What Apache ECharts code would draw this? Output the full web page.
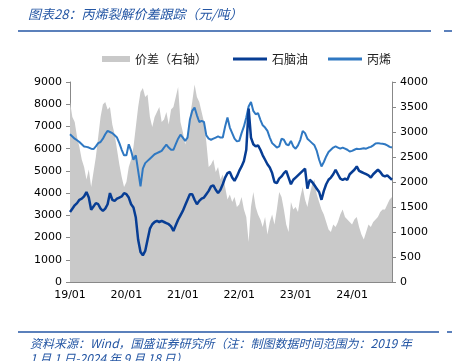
<!DOCTYPE html>
<html>
<head>
<meta charset="utf-8">
<script src="https://cdn.jsdelivr.net/npm/echarts@6/dist/echarts.min.js"></script>
<style>html,body{margin:0;padding:0;background:#fff;}#c{width:452px;height:361px;}</style>
</head>
<body>
<div id="c"></div>
<script>
// Half-monthly dates, 2019-01-01 .. 2024-09-16
var dates = [];
for (var y = 2019; y <= 2024; y++) {
  for (var m = 1; m <= 12; m++) {
    if (y === 2024 && m > 9) break;
    var mm = (m < 10 ? '0' : '') + m;
    dates.push(y + '-' + mm + '-01');
    dates.push(y + '-' + mm + '-16');
  }
}

// 丙烯 (left axis, 元/吨)
var propylene = [
  6650,6550,6450,6380,6300,6200,6100,6080,6050,6000,5980,6100,6250,6300,6450,6650,6800,6750,6700,6600,6500,6250,5950,5700,
  5700,6200,5900,5500,5700,5000,4300,5100,5350,5450,5550,5650,5750,5800,5850,5900,6050,6180,6050,5950,5950,6200,6450,6630,
  6500,6350,6500,7300,7700,7850,7500,7200,7250,7200,6600,6450,6400,6450,6500,6550,6500,6500,7000,7400,6950,6700,6450,6330,
  6350,6700,7000,7400,7900,8100,7700,7550,7600,7300,7050,6950,6800,6500,6250,6150,6050,6100,6450,6400,6200,6150,6350,6100,
  6000,6150,6400,6800,6700,6450,6350,6250,6150,5900,5500,5200,5400,5650,5850,5950,6050,6100,6050,6000,6050,6000,5950,5870,
  5900,5950,6000,5980,6000,6020,6000,6050,6080,6150,6230,6250,6230,6220,6200,6150,6080,6050
];

// 石脑油 (left axis, 元/吨)
var naphtha = [
  3150,3300,3450,3550,3700,3750,3850,4050,3800,3250,3400,3550,3500,3300,3200,3300,3500,4000,3700,3650,3750,3800,3850,4000,
  3950,3800,3500,3350,2900,1900,1350,1200,1400,1900,2400,2600,2700,2750,2700,2750,2700,2650,2600,2500,2300,2550,2800,3000,
  3200,3450,3700,3950,3950,3700,3500,3650,3750,3800,3950,4100,4300,4350,4150,4000,4150,4400,4700,4900,4950,4700,4550,4750,
  5000,5200,5450,5950,7800,6500,6200,6100,6150,5950,5700,5500,5300,5150,4900,4500,4450,4650,4750,4900,5000,4700,4400,4600,
  4700,4800,4900,5000,5100,4200,4600,4500,4350,4200,4050,3700,4100,4400,4600,4700,4850,5050,4850,4650,4600,4650,4600,4850,
  4950,5050,5200,5000,4950,4900,4850,4800,4700,4850,4950,5050,4950,4800,4750,4800,4700,4600
];

// 价差 (right axis, 元/吨)
var spread = [
  3600,3300,3200,2900,2700,2450,2300,2050,2250,1900,2200,2500,2900,3300,3550,3600,3450,3500,3150,2950,2650,2350,2100,1900,
  2000,2300,2450,2700,3100,3500,3800,3880,3700,3750,3300,3100,3300,3400,3500,3200,3250,3400,3150,3450,3500,3700,3900,3200,
  3000,2750,2950,3300,3600,3950,3700,3600,3400,3200,2800,2300,2350,2450,2200,2300,2050,2150,1900,1650,1750,1600,1700,1500,
  1550,1700,1450,1300,800,1500,1800,1500,1350,1250,1100,1300,950,1200,1350,1150,1450,1800,1700,1450,1150,1000,1600,1450,
  1500,1400,1700,1900,1650,1500,1750,1950,2050,1750,1600,1450,1350,1200,1050,1000,1150,1100,1200,1350,1450,1300,1250,1200,
  1150,1250,1300,1100,950,850,1000,1150,1100,1200,1250,1300,1400,1450,1450,1550,1650,1700
];

var leftTicks = [0, 9000, 1000];
var rightTicks = [0, 4000, 500];

var blue = '#2456a4';
var chart = echarts.init(document.getElementById('c'), null, {renderer: 'canvas'});
var numFont = 'DejaVu Sans';
var cjk = '"Noto Sans CJK SC"';
var plain = function (v) { return String(v); };

chart.setOption({
  animation: false,
  backgroundColor: '#fff',
  grid: {left: 70, right: 60, top: 82, bottom: 79, containLabel: false},
  legend: [
    {
      left: 97, top: 48,
      itemWidth: 28, itemHeight: 6,
      textStyle: {fontFamily: cjk, fontSize: 12, color: '#222'},
      data: [{name: '价差（右轴）', icon: 'rect'}]
    },
    {
      left: 228, top: 48,
      itemWidth: 34, itemHeight: 3, itemGap: 20,
      textStyle: {fontFamily: cjk, fontSize: 12, color: '#222'},
      data: [{name: '石脑油', icon: 'rect'}, {name: '丙烯', icon: 'rect'}]
    }
  ],
  xAxis: {
    type: 'category',
    data: dates,
    boundaryGap: false,
    axisLine: {lineStyle: {color: '#888', width: 1}},
    axisTick: {
      inside: true, length: 4,
      lineStyle: {color: '#888'},
      interval: function (i, v) { return v.slice(5) === '01-01'; }
    },
    axisLabel: {
      interval: function (i, v) { return v.slice(5) === '01-01'; },
      formatter: function (v) { return v.slice(2, 4) + '/' + v.slice(5, 7); },
      fontFamily: numFont, fontSize: 11, color: '#000', margin: 8
    },
    splitLine: {show: false}
  },
  yAxis: [
    {
      type: 'value', min: leftTicks[0], max: leftTicks[1], interval: leftTicks[2],
      axisLine: {show: true, lineStyle: {color: '#888'}},
      axisTick: {show: true, length: 4, lineStyle: {color: '#888'}},
      axisLabel: {fontFamily: numFont, fontSize: 11, color: '#000', margin: 8, formatter: plain},
      splitLine: {show: false}
    },
    {
      type: 'value', min: rightTicks[0], max: rightTicks[1], interval: rightTicks[2],
      position: 'right',
      axisLine: {show: true, lineStyle: {color: '#888'}},
      axisTick: {show: true, length: 4, lineStyle: {color: '#888'}},
      axisLabel: {fontFamily: numFont, fontSize: 11, color: '#000', margin: 8, formatter: plain},
      splitLine: {show: false}
    }
  ],
  series: [
    {
      name: '价差（右轴）', type: 'line', yAxisIndex: 1, data: spread,
      symbol: 'none', lineStyle: {width: 0, color: '#c9c9c9'},
      itemStyle: {color: '#c9c9c9'},
      areaStyle: {color: '#c9c9c9', opacity: 1}, z: 1
    },
    {
      name: '丙烯', type: 'line', yAxisIndex: 0, data: propylene,
      symbol: 'none', lineStyle: {width: 2, color: '#2f78c2'},
      itemStyle: {color: '#2f78c2'}, z: 2
    },
    {
      name: '石脑油', type: 'line', yAxisIndex: 0, data: naphtha,
      symbol: 'none', lineStyle: {width: 2.5, color: '#073d94'},
      itemStyle: {color: '#073d94'}, z: 3
    }
  ],
  graphic: [
    {type: 'text', left: 28, top: 8, style: {text: '图表28：丙烯裂解价差跟踪（元/吨）', font: 'italic 13px "Noto Sans CJK SC"', fill: blue}},
    {type: 'line', shape: {x1: 18, y1: 31, x2: 431, y2: 31}, style: {stroke: blue, lineWidth: 1.5}},
    {type: 'line', shape: {x1: 444, y1: 31, x2: 452, y2: 31}, style: {stroke: blue, lineWidth: 1.5}},
    {type: 'line', shape: {x1: 18, y1: 332, x2: 439, y2: 332}, style: {stroke: blue, lineWidth: 1.5}},
    {type: 'line', shape: {x1: 447, y1: 332, x2: 452, y2: 332}, style: {stroke: blue, lineWidth: 1.5}},
    {type: 'text', left: 30, top: 337, style: {text: '资料来源：Wind，国盛证券研究所（注：制图数据时间范围为：2019 年', font: 'italic 12px "Noto Sans CJK SC"', fill: blue}},
    {type: 'text', left: 30, top: 352, style: {text: '1 月 1 日-2024 年 9 月 18 日）', font: 'italic 12px "Noto Sans CJK SC"', fill: blue}}
  ]
});
</script>
</body>
</html>
